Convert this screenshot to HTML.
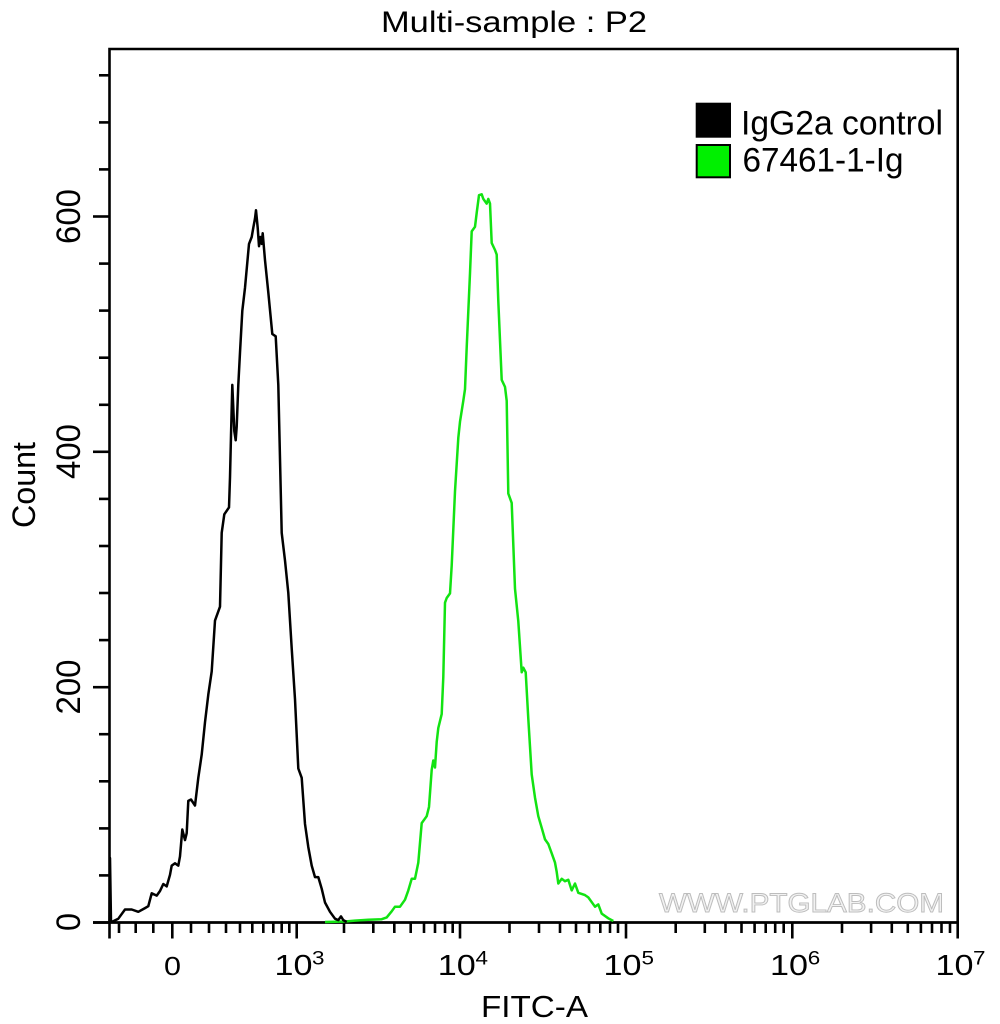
<!DOCTYPE html>
<html><head><meta charset="utf-8"><style>
html,body{margin:0;padding:0;background:#fff;}
svg{display:block;}
text{font-family:"Liberation Sans",Arial,sans-serif;fill:#000;}
</style></head><body>
<svg width="1000" height="1024" viewBox="0 0 1000 1024" xmlns="http://www.w3.org/2000/svg">
<rect width="1000" height="1024" fill="#fff"/>
<text x="381" y="32" font-size="30" textLength="266" lengthAdjust="spacingAndGlyphs">Multi-sample : P2</text>
<text x="659" y="912" font-size="26.5" textLength="285" lengthAdjust="spacingAndGlyphs" style="fill:#f2f2f2;stroke:#bdbdbd;stroke-width:0.9">WWW.PTGLAB.COM</text>
<path d="M109.5,922.5 L109.5,49 L957.7,49 L957.7,922.5" fill="none" stroke="#000" stroke-width="2.6"/>
<line x1="93" y1="922.5" x2="959" y2="922.5" stroke="#000" stroke-width="2.8"/>
<g stroke="#000" stroke-width="2.6">
<line x1="93" y1="922.5" x2="109" y2="922.5"/>
<line x1="99" y1="875.4" x2="109" y2="875.4"/>
<line x1="99" y1="828.4" x2="109" y2="828.4"/>
<line x1="99" y1="781.3" x2="109" y2="781.3"/>
<line x1="99" y1="734.2" x2="109" y2="734.2"/>
<line x1="93" y1="687.2" x2="109" y2="687.2"/>
<line x1="99" y1="640.1" x2="109" y2="640.1"/>
<line x1="99" y1="593.0" x2="109" y2="593.0"/>
<line x1="99" y1="546.0" x2="109" y2="546.0"/>
<line x1="99" y1="498.9" x2="109" y2="498.9"/>
<line x1="93" y1="451.8" x2="109" y2="451.8"/>
<line x1="99" y1="404.8" x2="109" y2="404.8"/>
<line x1="99" y1="357.7" x2="109" y2="357.7"/>
<line x1="99" y1="310.6" x2="109" y2="310.6"/>
<line x1="99" y1="263.6" x2="109" y2="263.6"/>
<line x1="93" y1="216.5" x2="109" y2="216.5"/>
<line x1="99" y1="169.4" x2="109" y2="169.4"/>
<line x1="99" y1="122.4" x2="109" y2="122.4"/>
<line x1="99" y1="75.3" x2="109" y2="75.3"/>
</g>
<g font-size="34" text-anchor="middle">
<text transform="translate(80,922) rotate(-90)" textLength="18" lengthAdjust="spacingAndGlyphs">0</text>
<text transform="translate(80,687) rotate(-90)" textLength="55" lengthAdjust="spacingAndGlyphs">200</text>
<text transform="translate(80,451.5) rotate(-90)" textLength="55" lengthAdjust="spacingAndGlyphs">400</text>
<text transform="translate(80,216.5) rotate(-90)" textLength="55" lengthAdjust="spacingAndGlyphs">600</text>
</g>
<text transform="translate(35,485) rotate(-90)" font-size="32" text-anchor="middle" textLength="86" lengthAdjust="spacingAndGlyphs">Count</text>
<g stroke="#000" stroke-width="2.6">
<line x1="109.5" y1="922" x2="109.5" y2="938.5"/>
<line x1="172.3" y1="922" x2="172.3" y2="938.5"/>
<line x1="296.7" y1="922" x2="296.7" y2="938.5"/>
<line x1="460" y1="922" x2="460" y2="938.5"/>
<line x1="626" y1="922" x2="626" y2="938.5"/>
<line x1="792.3" y1="922" x2="792.3" y2="938.5"/>
<line x1="957.7" y1="922" x2="957.7" y2="938.5"/>
<line x1="119" y1="922" x2="119" y2="933"/>
<line x1="135.7" y1="922" x2="135.7" y2="933"/>
<line x1="153.3" y1="922" x2="153.3" y2="933"/>
<line x1="191" y1="922" x2="191" y2="933"/>
<line x1="209" y1="922" x2="209" y2="933"/>
<line x1="226" y1="922" x2="226" y2="933"/>
<line x1="240" y1="922" x2="240" y2="933"/>
<line x1="252.3" y1="922" x2="252.3" y2="933"/>
<line x1="263.3" y1="922" x2="263.3" y2="933"/>
<line x1="273.3" y1="922" x2="273.3" y2="933"/>
<line x1="281.7" y1="922" x2="281.7" y2="933"/>
<line x1="289.3" y1="922" x2="289.3" y2="933"/>
<line x1="344" y1="922" x2="344" y2="933"/>
<line x1="373.3" y1="922" x2="373.3" y2="933"/>
<line x1="394.3" y1="922" x2="394.3" y2="933"/>
<line x1="410.7" y1="922" x2="410.7" y2="933"/>
<line x1="424" y1="922" x2="424" y2="933"/>
<line x1="435" y1="922" x2="435" y2="933"/>
<line x1="445" y1="922" x2="445" y2="933"/>
<line x1="452.7" y1="922" x2="452.7" y2="933"/>
<line x1="509.5" y1="922" x2="509.5" y2="933"/>
<line x1="539" y1="922" x2="539" y2="933"/>
<line x1="560" y1="922" x2="560" y2="933"/>
<line x1="576" y1="922" x2="576" y2="933"/>
<line x1="589" y1="922" x2="589" y2="933"/>
<line x1="600.3" y1="922" x2="600.3" y2="933"/>
<line x1="610" y1="922" x2="610" y2="933"/>
<line x1="618" y1="922" x2="618" y2="933"/>
<line x1="675.7" y1="922" x2="675.7" y2="933"/>
<line x1="704.8" y1="922" x2="704.8" y2="933"/>
<line x1="725.5" y1="922" x2="725.5" y2="933"/>
<line x1="741.5" y1="922" x2="741.5" y2="933"/>
<line x1="754.6" y1="922" x2="754.6" y2="933"/>
<line x1="765.7" y1="922" x2="765.7" y2="933"/>
<line x1="775.2" y1="922" x2="775.2" y2="933"/>
<line x1="783.7" y1="922" x2="783.7" y2="933"/>
<line x1="842" y1="922" x2="842" y2="933"/>
<line x1="871.1" y1="922" x2="871.1" y2="933"/>
<line x1="891.8" y1="922" x2="891.8" y2="933"/>
<line x1="907.8" y1="922" x2="907.8" y2="933"/>
<line x1="920.9" y1="922" x2="920.9" y2="933"/>
<line x1="932" y1="922" x2="932" y2="933"/>
<line x1="941.5" y1="922" x2="941.5" y2="933"/>
<line x1="950" y1="922" x2="950" y2="933"/>
</g>
<text x="172.5" y="975" font-size="26" text-anchor="middle" textLength="17" lengthAdjust="spacingAndGlyphs">0</text>
<g font-size="29">
<text x="274.5" y="975" textLength="38" lengthAdjust="spacingAndGlyphs">10</text>
<text x="437.8" y="975" textLength="38" lengthAdjust="spacingAndGlyphs">10</text>
<text x="603.5" y="975" textLength="38" lengthAdjust="spacingAndGlyphs">10</text>
<text x="770" y="975" textLength="38" lengthAdjust="spacingAndGlyphs">10</text>
<text x="935.5" y="975" textLength="38" lengthAdjust="spacingAndGlyphs">10</text>
</g>
<g font-size="19">
<text x="312" y="964.5" textLength="12.5" lengthAdjust="spacingAndGlyphs">3</text>
<text x="475.5" y="964.5" textLength="12.5" lengthAdjust="spacingAndGlyphs">4</text>
<text x="641.5" y="964.5" textLength="12.5" lengthAdjust="spacingAndGlyphs">5</text>
<text x="807.8" y="964.5" textLength="12.5" lengthAdjust="spacingAndGlyphs">6</text>
<text x="973" y="964.5" textLength="12.5" lengthAdjust="spacingAndGlyphs">7</text>
</g>
<text x="481" y="1017" font-size="30.5" textLength="107" lengthAdjust="spacingAndGlyphs">FITC-A</text>
<rect x="695.7" y="102.7" width="35.3" height="35" fill="#000"/>
<rect x="696.7" y="145" width="33.3" height="32.3" fill="#00f000" stroke="#000" stroke-width="2"/>
<text x="741" y="134.3" font-size="34" textLength="202" lengthAdjust="spacingAndGlyphs">IgG2a control</text>
<text x="742.5" y="171.5" font-size="34" textLength="161" lengthAdjust="spacingAndGlyphs">67461-1-Ig</text>
<polyline fill="none" stroke="#12e312" stroke-width="2.5" stroke-linejoin="round" points="325,922 345,921.5 355,920.6 368.3,919.7 381.7,919.2 386.7,917.4 391.7,911.3 395,906.7 400,906.7 405,899.7 408.3,890.4 411.7,878.8 415,878.8 418.3,862.6 421.7,823.1 426.7,816.2 429,806.9 431.7,769.8 433.3,760.5 435,767.5 436.7,741.9 438.3,728 441.7,714.1 443.3,677 445,602.7 446.7,598 450,593.4 451.7,565.6 455,491.3 458.3,437.9 460,421.7 463.3,400.8 465,389.2 466.7,347.4 470,273.2 471.7,231.4 475,226.8 476.7,212.8 479,195.2 481.7,194.3 483.3,198.9 485,201.2 486.7,203.6 488.3,198.9 490,203.6 491.7,243 495,250 496.7,254.6 498.3,301 501.7,379.9 505,386.9 506.7,400.8 508.3,493.6 511.7,502.9 515,588.8 518.3,621.3 521.7,672.3 523.3,667.7 525.7,672.3 528.3,718.7 531.7,774.4 535,797.6 538.3,816.2 541.7,827.8 545,839.4 548.3,844 551.7,853.3 555,862.6 556.7,871.9 558.3,883.5 561.7,878.8 565,881.2 568.3,879.8 571.7,890.4 575,883.5 578.3,892.8 585,895.1 588.3,897.4 595,906.7 598.3,904.4 601.7,913.6 608.3,918.3 613.3,921"/>
<polyline fill="none" stroke="#000" stroke-width="2.5" stroke-linejoin="round" points="109.5,922 110,858 111,922 111.7,922 118.3,918.7 125,909.5 131.7,909.5 138.3,911.8 145,908.1 148.3,906.2 151.7,893.3 156.7,895.6 160,891 163.3,884 166.7,886.4 170,874.8 171.7,865.6 175,863.3 178.3,865.6 180,856.3 182.3,829.5 185,840.1 186.7,833.2 188.3,800.9 191,799.5 195,805.5 198.3,777.8 201.7,754.6 205,722.3 208.3,694.6 211.7,671.4 215,620.6 220,606.7 221.7,532.8 224.3,514.3 229,507.4 230,477.3 231,435.7 232.3,384.9 233.3,408 234.3,431.1 235.7,440.3 236.7,426.5 238.3,384.9 240,352.5 242.3,310.9 245,287.8 249,243.9 251.7,237 253.3,227.7 255,218.5 256,210.2 257.7,227.7 259,246.2 260.3,237 261.7,243.9 262.7,233.3 265,260.1 268.3,292.4 272.3,334 275.7,336.3 278.3,384.9 281.7,532.8 285,560.5 288.3,592.9 291.7,648.3 295,699.2 298.3,768.5 301.7,777.8 305,824 308.3,847.1 311.7,865.6 315,877.1 318.3,877.1 321.7,888.7 325,902.5 330,911.8 335,918.7 338.3,920.1 341,916.4 343.3,920.1 346.7,922"/>
</svg>
</body></html>
